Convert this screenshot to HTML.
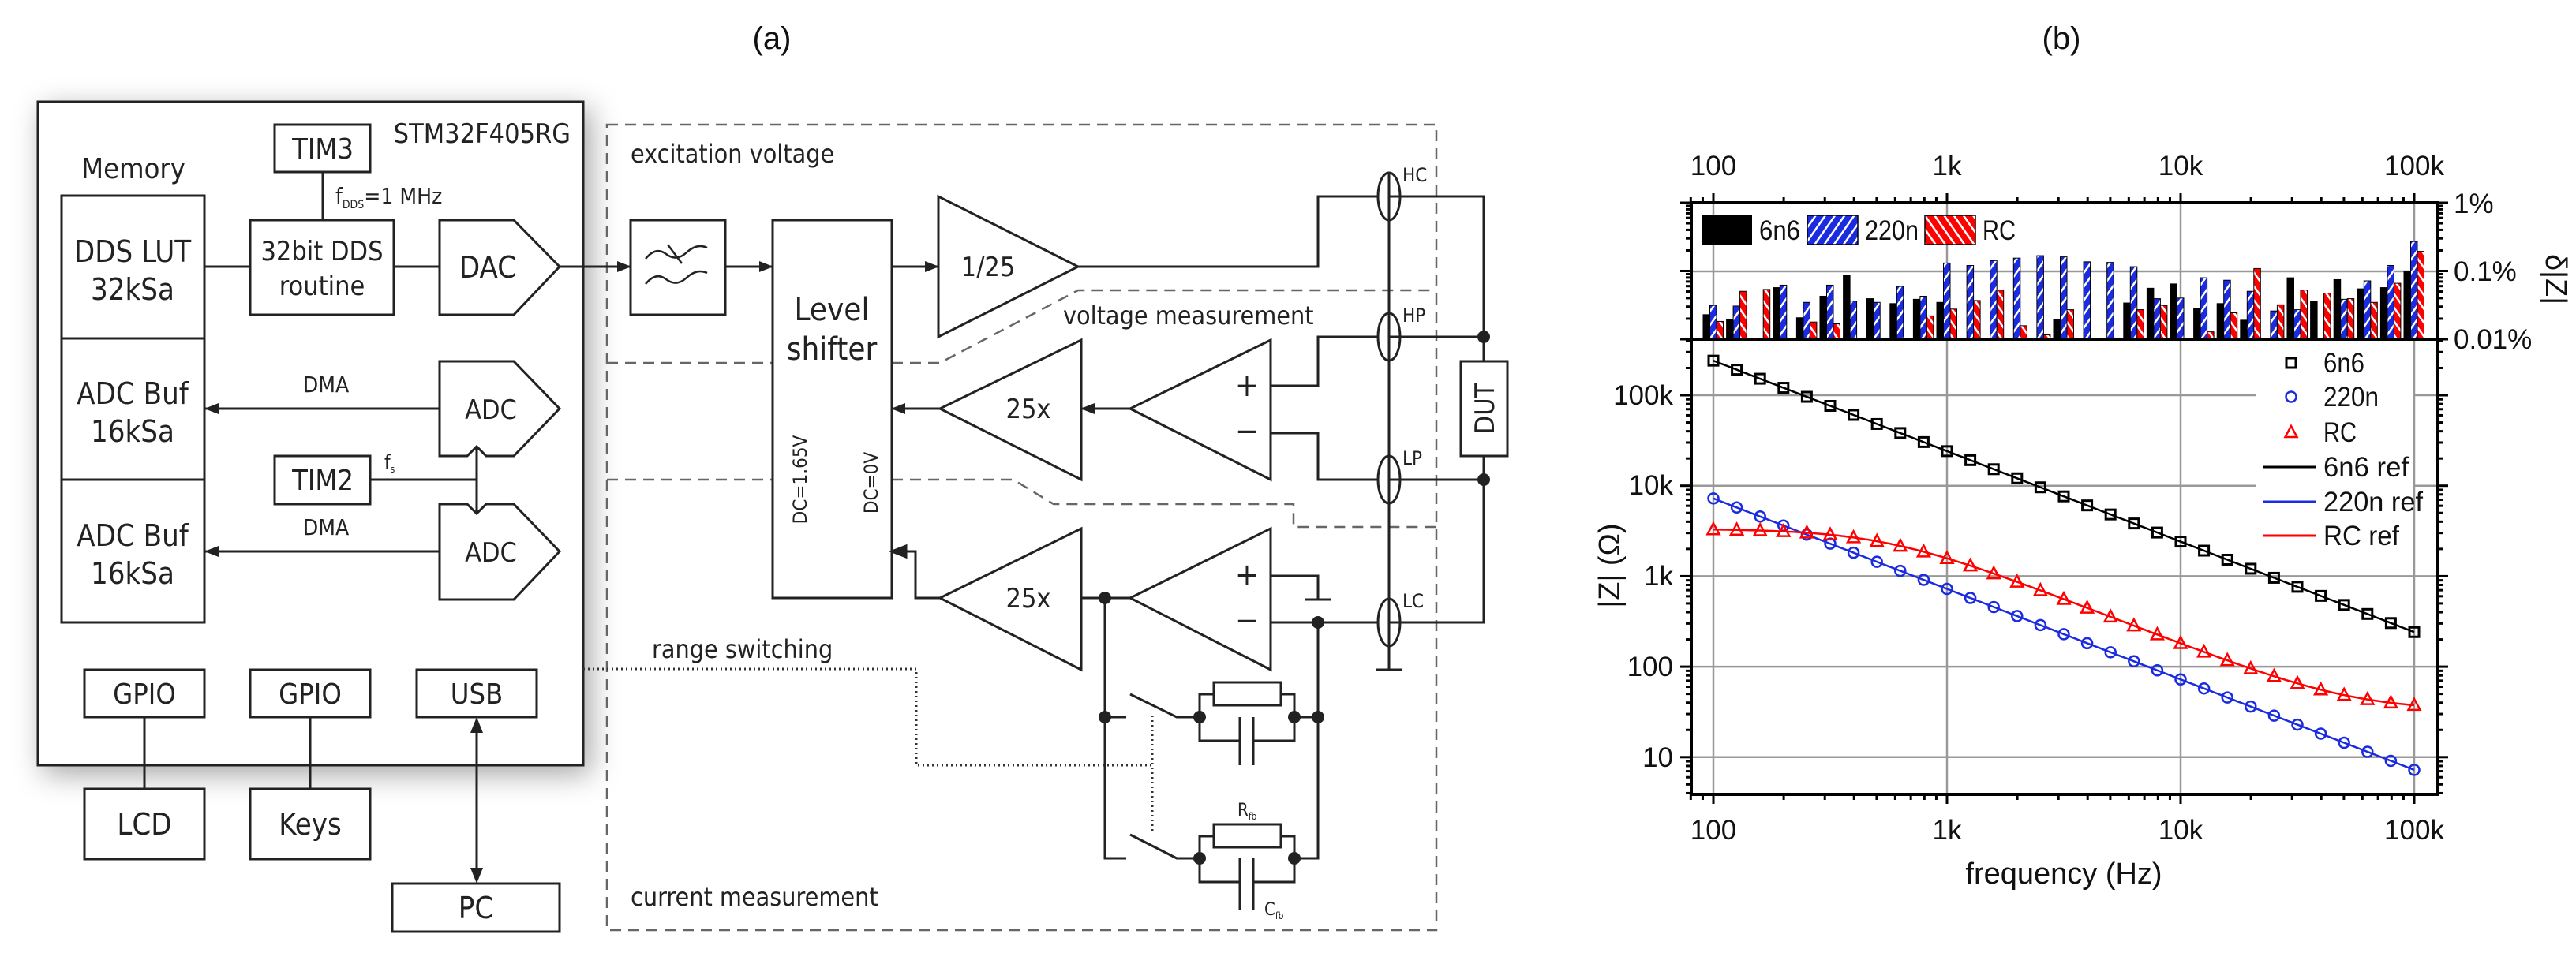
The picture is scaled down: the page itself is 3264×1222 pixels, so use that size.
<!DOCTYPE html>
<html><head><meta charset="utf-8"><style>
html,body{margin:0;padding:0;background:#fff}
svg{display:block}
.d{font-family:"DejaVu Sans Condensed","DejaVu Sans",sans-serif;fill:#222}
.p{font-family:"Liberation Sans Narrow","Liberation Sans",Arial,sans-serif;fill:#111}
</style></head><body>
<svg id="s" width="3264" height="1222" viewBox="0 0 3264 1222" xmlns="http://www.w3.org/2000/svg">
<defs>
<filter id="sh" x="-10%" y="-10%" width="125%" height="125%"><feDropShadow dx="8" dy="10" stdDeviation="18" flood-color="#000" flood-opacity="0.35"/></filter>
<pattern id="hb" width="10" height="10" patternUnits="userSpaceOnUse" patternTransform="rotate(35)"><rect width="10" height="10" fill="#1a2be0"/><rect x="0" width="2.5" height="10" fill="#fff"/></pattern>
<pattern id="hr" width="10" height="10" patternUnits="userSpaceOnUse" patternTransform="rotate(-35)"><rect width="10" height="10" fill="#f00"/><rect x="0" width="2.5" height="10" fill="#fff"/></pattern>
<marker id="ah" markerWidth="18" markerHeight="14" refX="17" refY="7" orient="auto" markerUnits="userSpaceOnUse" viewBox="0 0 18 14"><path d="M0,0 L18,7 L0,14z" fill="#222"/></marker>
</defs>
<text x="978" y="62" font-size="40" text-anchor="middle" class="p" style="font-family:'Liberation Sans',sans-serif">(a)</text>
<text x="2612" y="62" font-size="40" text-anchor="middle" class="p" style="font-family:'Liberation Sans',sans-serif">(b)</text>

<g stroke="#222" stroke-width="3" fill="none">
<rect x="48" y="129" width="691" height="841" fill="#fff" filter="url(#sh)"/>
<rect x="78" y="248" width="181" height="541"/>
<line x1="78" y1="429" x2="259" y2="429"/><line x1="78" y1="608" x2="259" y2="608"/>
<rect x="348" y="158" width="121" height="60"/>
<line x1="409" y1="218" x2="409" y2="279"/>
<rect x="317" y="279" width="182" height="120"/>
<line x1="259" y1="338" x2="317" y2="338"/><line x1="499" y1="338" x2="557" y2="338"/>
<path d="M557,279 H651 L709,338 L651,399 H557Z"/>
<path d="M557,458 H651 L709,518 L651,578 H616 L604,566 L592,578 H557Z"/>
<path d="M557,639 H592 L604,651 L616,639 H651 L709,699 L651,760 H557Z"/>
<rect x="348" y="578" width="121" height="61"/>
<line x1="469" y1="608" x2="604" y2="608"/><line x1="604" y1="566" x2="604" y2="651"/>
<line x1="557" y1="518" x2="260" y2="518" marker-end="url(#ah)"/>
<line x1="557" y1="699" x2="260" y2="699" marker-end="url(#ah)"/>
<rect x="107" y="849" width="152" height="60"/><rect x="317" y="849" width="152" height="60"/><rect x="528" y="849" width="152" height="60"/>
<rect x="107" y="1000" width="152" height="89" fill="#fff"/><rect x="317" y="1000" width="152" height="89" fill="#fff"/>
<rect x="497" y="1120" width="212" height="61" fill="#fff"/>
<line x1="183" y1="909" x2="183" y2="1000"/><line x1="393" y1="909" x2="393" y2="1000"/>
<line x1="604" y1="925" x2="604" y2="1104"/>
<path d="M604,909 L596,929 H612Z M604,1120 L596,1100 H612Z" fill="#222" stroke="none"/>
</g>
<g stroke="#666" stroke-width="2.5" fill="none" stroke-dasharray="14 9">
<rect x="769" y="158" width="1051" height="1021"/>
<path d="M769,460 H979 M1130,460 H1191 L1366,368 H1820"/>
<path d="M769,608 H979 M1130,608 H1284 L1335,639 H1639 V668 H1820"/>
</g>
<g stroke="#222" stroke-width="3" fill="none">
<line x1="709" y1="338" x2="799" y2="338" marker-end="url(#ah)"/>
<rect x="799" y="279" width="120" height="120" fill="#fff"/>
<path d="M818,328 q13,-16 26,-6 t26,-2 t26,-6 M818,360 q13,-16 26,-6 t26,-2 t26,-6 M846,310 l18,24" stroke-width="2.5"/>
<line x1="919" y1="338" x2="979" y2="338" marker-end="url(#ah)"/>
<rect x="979" y="279" width="151" height="479" fill="#fff"/>
<line x1="1130" y1="338" x2="1189" y2="338" marker-end="url(#ah)"/>
<path d="M1189,249 V427 L1366,338Z"/>
<path d="M1366,338 H1670 V249 H1880 V458 M1880,578 V789 H1760"/>
<rect x="1851" y="458" width="59" height="120" fill="#fff"/>
<line x1="1760" y1="249" x2="1760" y2="849"/><line x1="1744" y1="849" x2="1776" y2="849"/>
<path d="M1760,427 H1670 V489 H1610 M1610,549 H1670 V608 H1760"/>
<path d="M1370,431 V608 L1191,518Z"/><path d="M1610,431 V608 L1432,518Z"/>
<line x1="1432" y1="518" x2="1370" y2="518" marker-end="url(#ah)"/>
<line x1="1191" y1="518" x2="1130" y2="518" marker-end="url(#ah)"/>
<path d="M1370,670 V849 L1191,758Z"/><path d="M1610,670 V849 L1432,758Z"/>
<line x1="1370" y1="758" x2="1432" y2="758"/>
<path d="M1191,758 H1160 V699 H1146"/><path d="M1130,699 l18,-7 v14z" fill="#222"/>
<path d="M1610,730 H1670 V760 M1654,760 H1686"/>
<path d="M1610,789 H1760 M1670,789 V1088 H1640"/>
<path d="M1400,758 V1088 H1427 M1400,909 H1427"/>
<path d="M1432,880 L1491,909 H1520 M1432,1058 L1491,1088 H1520"/>
<path d="M1520,909 V880 H1538 M1623,880 H1640 V939 H1588 M1571,939 H1520 V909 M1640,909 H1670"/>
<rect x="1538" y="865" width="85" height="29"/>
<path d="M1571,909 V970 M1588,909 V970"/>
<path d="M1520,1088 V1060 H1538 M1623,1060 H1640 V1118 H1588 M1571,1118 H1520 V1088"/>
<rect x="1538" y="1045" width="85" height="29"/>
<path d="M1571,1088 V1153 M1588,1088 V1153"/>
</g>
<g fill="#fff" stroke="#222" stroke-width="3">
<ellipse cx="1760" cy="249" rx="14" ry="30"/><ellipse cx="1760" cy="427" rx="14" ry="30"/><ellipse cx="1760" cy="608" rx="14" ry="30"/><ellipse cx="1760" cy="789" rx="14" ry="30"/>
</g>
<g stroke="#222" stroke-width="3"><line x1="1760" y1="249" x2="1880" y2="249"/><line x1="1760" y1="427" x2="1880" y2="427"/><line x1="1760" y1="608" x2="1880" y2="608"/><line x1="1760" y1="789" x2="1880" y2="789"/><line x1="1760" y1="219" x2="1760" y2="849"/></g>
<g fill="#222">
<circle cx="1880" cy="427" r="8"/><circle cx="1880" cy="608" r="8"/><circle cx="1400" cy="758" r="8"/><circle cx="1670" cy="789" r="8"/>
<circle cx="1400" cy="909" r="8"/><circle cx="1520" cy="909" r="8"/><circle cx="1640" cy="909" r="8"/><circle cx="1670" cy="909" r="8"/>
<circle cx="1520" cy="1088" r="8"/><circle cx="1640" cy="1088" r="8"/>
</g>
<g stroke="#333" stroke-width="3" fill="none" stroke-dasharray="2 4">
<path d="M739,848 H1161 V970 H1460 M1460,907 V1057"/>
</g>
<g class="d">
<text x="723" y="181" font-size="34" text-anchor="end">STM32F405RG</text>
<text x="169" y="226" font-size="36" text-anchor="middle">Memory</text>
<text x="409" y="201" font-size="36" text-anchor="middle">TIM3</text>
<text x="425" y="258" font-size="28">f<tspan font-size="14" dy="6">DDS</tspan><tspan dy="-6">=1 MHz</tspan></text>
<text x="168" y="332" font-size="38" text-anchor="middle">DDS LUT</text>
<text x="168" y="380" font-size="38" text-anchor="middle">32kSa</text>
<text x="168" y="512" font-size="38" text-anchor="middle">ADC Buf</text>
<text x="168" y="560" font-size="38" text-anchor="middle">16kSa</text>
<text x="168" y="692" font-size="38" text-anchor="middle">ADC Buf</text>
<text x="168" y="740" font-size="38" text-anchor="middle">16kSa</text>
<text x="408" y="330" font-size="34" text-anchor="middle">32bit DDS</text>
<text x="408" y="374" font-size="34" text-anchor="middle">routine</text>
<text x="618" y="352" font-size="38" text-anchor="middle">DAC</text>
<text x="622" y="531" font-size="34" text-anchor="middle">ADC</text>
<text x="622" y="712" font-size="34" text-anchor="middle">ADC</text>
<text x="413" y="497" font-size="28" text-anchor="middle">DMA</text>
<text x="413" y="678" font-size="28" text-anchor="middle">DMA</text>
<text x="409" y="621" font-size="36" text-anchor="middle">TIM2</text>
<text x="487" y="594" font-size="24">f<tspan font-size="12" dy="5">s</tspan></text>
<text x="183" y="892" font-size="36" text-anchor="middle">GPIO</text>
<text x="393" y="892" font-size="36" text-anchor="middle">GPIO</text>
<text x="604" y="892" font-size="36" text-anchor="middle">USB</text>
<text x="183" y="1058" font-size="38" text-anchor="middle">LCD</text>
<text x="393" y="1058" font-size="38" text-anchor="middle">Keys</text>
<text x="603" y="1164" font-size="38" text-anchor="middle">PC</text>
<text x="799" y="206" font-size="32">excitation voltage</text>
<text x="1347" y="411" font-size="32">voltage measurement</text>
<text x="826" y="834" font-size="32">range switching</text>
<text x="799" y="1148" font-size="32">current measurement</text>
<text x="1054" y="406" font-size="40" text-anchor="middle">Level</text>
<text x="1054" y="456" font-size="40" text-anchor="middle">shifter</text>
<text transform="translate(1022,608) rotate(-90)" font-size="24" text-anchor="middle">DC=1.65V</text>
<text transform="translate(1112,612) rotate(-90)" font-size="24" text-anchor="middle">DC=0V</text>
<text x="1252" y="350" font-size="34" text-anchor="middle">1/25</text>
<text x="1303" y="530" font-size="34" text-anchor="middle">25x</text>
<text x="1303" y="770" font-size="34" text-anchor="middle">25x</text>
<text x="1580" y="502" font-size="40" text-anchor="middle">+</text>
<text x="1580" y="560" font-size="40" text-anchor="middle">−</text>
<text x="1580" y="742" font-size="40" text-anchor="middle">+</text>
<text x="1580" y="800" font-size="40" text-anchor="middle">−</text>
<text x="1777" y="230" font-size="24">HC</text>
<text x="1777" y="408" font-size="24">HP</text>
<text x="1777" y="589" font-size="24">LP</text>
<text x="1777" y="770" font-size="24">LC</text>
<text transform="translate(1893,518) rotate(-90)" font-size="34" text-anchor="middle">DUT</text>
<text x="1568" y="1034" font-size="22">R<tspan font-size="12" dy="5">fb</tspan></text>
<text x="1602" y="1160" font-size="22">C<tspan font-size="12" dy="5">fb</tspan></text>
</g>

<g id="plot"></g>
<g class="p" font-size="35">
<text x="2171" y="222" text-anchor="middle">100</text><text x="2467" y="222" text-anchor="middle">1k</text><text x="2763" y="222" text-anchor="middle">10k</text><text x="3059" y="222" text-anchor="middle">100k</text>
<text x="2171" y="1064" text-anchor="middle">100</text><text x="2467" y="1064" text-anchor="middle">1k</text><text x="2763" y="1064" text-anchor="middle">10k</text><text x="3059" y="1064" text-anchor="middle">100k</text>
<text x="2120" y="513" text-anchor="end">100k</text><text x="2120" y="627" text-anchor="end">10k</text><text x="2120" y="742" text-anchor="end">1k</text><text x="2120" y="857" text-anchor="end">100</text><text x="2120" y="972" text-anchor="end">10</text>
<text x="3109" y="270">1%</text><text x="3109" y="356">0.1%</text><text x="3109" y="442">0.01%</text>
<text x="2615" y="1120" text-anchor="middle" font-size="38">frequency (Hz)</text>
<text transform="translate(2052,717) rotate(-90)" text-anchor="middle" font-size="38">|Z| (Ω)</text>
<text transform="translate(3226,354) rotate(90)" text-anchor="middle" font-size="38">δ|Z|</text>
</g>
</svg>
<script>
(function(){
var NS="http://www.w3.org/2000/svg",g=document.getElementById("plot");
function el(t,a){var e=document.createElementNS(NS,t);for(var k in a)e.setAttribute(k,a[k]);g.appendChild(e);return e;}
var L=2143,R=3088,T=257,M=430,B=1007;
function X(f){return 2171+296*Math.log10(f/100);}
function Y(z){return 501-114.7*(Math.log10(z)-5);}
[100,1000,10000,100000].forEach(function(f){el("line",{x1:X(f),y1:T,x2:X(f),y2:B,stroke:"#999","stroke-width":2.5});});
[1e5,1e4,1e3,100,10].forEach(function(z){el("line",{x1:L,y1:Y(z),x2:R,y2:Y(z),stroke:"#999","stroke-width":2.5});});
el("line",{x1:L,y1:344,x2:R,y2:344,stroke:"#999","stroke-width":2.5});
var bz=[[512,497,523],[520,498,474],[552,552,471],[468,464,552],[517,492,524],[482,464,527],[448,490,552],[486,492,552],[494,466,552],[487,482,514],[492,428,503],[552,432,489],[552,424,472],[552,420,530],[552,416,545],[520,418,504],[552,426,552],[552,427,550],[493,434,504],[469,486,497],[462,485,552],[502,452,540],[494,456,509],[521,474,437],[552,506,496],[452,504,472],[490,552,477],[455,487,486],[470,457,492],[468,432,461],[442,393,409]];
var fills=["#000","url(#hb)","url(#hr)"],off=[-13,-4.5,4];
for(var i=0;i<31;i++){var f=100*Math.pow(10,i/10),x=X(f);for(var j=0;j<3;j++){var yt=bz[i][j]*0.779;if(M-yt<1)continue;el("rect",{x:x+off[j],y:yt,width:8.5,height:M-yt,fill:fills[j],stroke:"#000","stroke-width":1});}}
function z66(f){return 1/(2*Math.PI*f*6.6e-9);}
function z220(f){return 1/(2*Math.PI*f*220e-9);}
function zrc(f){var w=2*Math.PI*f,R=3300,C=9e-8,d=1+Math.pow(w*R*C,2);var re=33+R/d,im=-R*w*R*C/d;return Math.sqrt(re*re+im*im);}
var fns=[[z66,"#000"],[z220,"#1a2be0"],[zrc,"#f00"]];
function mk(k,x,y){
if(k==0)el("rect",{x:x-6,y:y-6,width:12,height:12,fill:"none",stroke:"#000","stroke-width":3});
else if(k==1)el("circle",{cx:x,cy:y,r:6.5,fill:"none",stroke:"#1a2be0","stroke-width":2.5});
else el("path",{d:"M"+x+","+(y-8)+"L"+(x+7.5)+","+(y+6)+"L"+(x-7.5)+","+(y+6)+"Z",fill:"none",stroke:"#f00","stroke-width":2.5});}
fns.forEach(function(p,k){var d="";for(var i=0;i<=300;i++){var f=100*Math.pow(10,i/100);d+=(i?"L":"M")+X(f).toFixed(1)+","+Y(p[0](f)).toFixed(1);}el("path",{d:d,fill:"none",stroke:p[1],"stroke-width":2.5});
for(var i=0;i<31;i++){var f=100*Math.pow(10,i/10);mk(k,X(f),Y(p[0](f)));}});
el("rect",{x:2858,y:440,width:200,height:260,fill:"#fff"});
mk(0,2903,460);mk(1,2903,503);mk(2,2903,548);
[[592,"#000"],[636,"#1a2be0"],[679,"#f00"]].forEach(function(r){el("line",{x1:2868,y1:r[0],x2:2934,y2:r[0],stroke:r[1],"stroke-width":3});});
var labs=[["6n6",460,52],["220n",503,70],["RC",548,42],["6n6 ref",592,108],["220n ref",636,126],["RC ref",679,96]];
labs.forEach(function(l){var t=el("text",{x:2944,y:l[1]+12,"font-size":35,"class":"p",textLength:l[2],lengthAdjust:"spacingAndGlyphs"});t.textContent=l[0];});
el("rect",{x:2157,y:273,width:63,height:37,fill:"#000"});el("rect",{x:2290,y:273,width:64,height:37,fill:"url(#hb)",stroke:"#000","stroke-width":1.5});el("rect",{x:2439,y:273,width:64,height:37,fill:"url(#hr)",stroke:"#000","stroke-width":1.5});
[["6n6",2229,52],["220n",2363,68],["RC",2512,42]].forEach(function(l){var t=el("text",{x:l[1],y:304,"font-size":35,"class":"p",textLength:l[2],lengthAdjust:"spacingAndGlyphs"});t.textContent=l[0];});
el("rect",{x:L,y:T,width:R-L,height:B-T,fill:"none",stroke:"#000","stroke-width":4});
el("line",{x1:L,y1:M,x2:R,y2:M,stroke:"#000","stroke-width":4});
function tx(x,len){el("line",{x1:x,y1:T,x2:x,y2:T-len,stroke:"#000","stroke-width":3});el("line",{x1:x,y1:B,x2:x,y2:B+len,stroke:"#000","stroke-width":3});}
for(var dcd=0;dcd<4;dcd++)for(var m=1;m<10;m++){var f=100*Math.pow(10,dcd)*m;if(f>130000)break;tx(X(f),m==1?12:7);}
tx(X(80),7);tx(X(90),7);
for(var e=0;e<6;e++)for(var m=1;m<10;m++){var y=Y(Math.pow(10,e)*m);if(y<M||y>B)continue;var len=m==1?14:7;el("line",{x1:L,y1:y,x2:L-len,y2:y,stroke:"#000","stroke-width":3});el("line",{x1:R,y1:y,x2:R+len,y2:y,stroke:"#000","stroke-width":3});}
for(var e=0;e<2;e++)for(var m=1;m<=10;m++){var y=430-86.5*(e+Math.log10(m));var len=(m==1||m==10)?14:7;el("line",{x1:L,y1:y,x2:L-len,y2:y,stroke:"#000","stroke-width":3});el("line",{x1:R,y1:y,x2:R+len,y2:y,stroke:"#000","stroke-width":3});}
})();
</script>
</body></html>
